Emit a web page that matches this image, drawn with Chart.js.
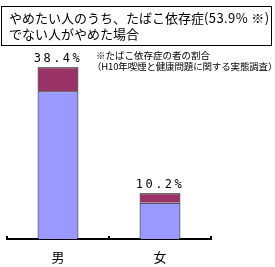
<!DOCTYPE html>
<html>
<head>
<meta charset="utf-8">
<script src="https://cdn.jsdelivr.net/npm/chart.js@4/dist/chart.umd.min.js"></script>
<style>
  html, body { margin: 0; padding: 0; background: #fff; }
  #wrap { position: relative; width: 275px; height: 267px; overflow: hidden; }
  canvas { position: absolute; left: 0; top: 0; }
  #title {
    position: absolute; left: 1px; top: 6px; width: 271px; height: 40px;
    border: 1.5px solid #000; box-sizing: border-box;
    font-family: "Noto Sans CJK JP", sans-serif; font-size: 13px; line-height: 16px;
    color: #000; padding: 3px 0 0 7px; white-space: nowrap;
  }
  #title .lat { letter-spacing: 0.4px; }
  #note {
    position: absolute; left: 96px; top: 50px;
    font-family: "Noto Sans CJK JP", sans-serif; font-size: 9.5px; line-height: 10.5px;
    color: #000; white-space: nowrap;
  }
  #note .l2 { margin-left: -4px; letter-spacing: -0.15px; }
</style>
</head>
<body>
<div id="wrap">
  <canvas id="c" width="275" height="267"></canvas>
  <div id="title">やめたい人のうち、たばこ依存症<span class="lat">(53.9% ※)</span><br>でない人がやめた場合</div>
  <div id="note">※たばこ依存症の者の割合<br><span class="l2">（H10年喫煙と健康問題に関する実態調査）</span></div>
</div>
<script>
const categories = ["男", "女"];
const nonDependent = [33.0, 8.1];
const dependent = [5.4, 2.1];
const yMax = 40;

const topLabels = {
  id: 'topLabels',
  afterDatasetsDraw(chart) {
    const ctx = chart.ctx;
    const xs = chart.scales.x, ys = chart.scales.y;
    ctx.save();
    ctx.fillStyle = '#000';
    ctx.font = '12px "DejaVu Sans Mono", monospace';
    ctx.letterSpacing = '2.5px';
    ctx.textAlign = 'center';
    ctx.textBaseline = 'middle';
    categories.forEach((c, i) => {
      const total = nonDependent[i] + dependent[i];
      const x = xs.getPixelForValue(i);
      const y = ys.getPixelForValue(total) - 8;
      ctx.fillText(total.toFixed(1) + '%', x, y);
    });
    ctx.restore();
  }
};

const upTicks = {
  id: 'upTicks',
  afterDraw(chart) {
    const ctx = chart.ctx;
    const xs = chart.scales.x;
    const yb = chart.chartArea.bottom;
    ctx.save();
    ctx.strokeStyle = '#000';
    ctx.lineWidth = 2;
    for (let i = 0; i <= categories.length; i++) {
      const x = Math.round(xs.getPixelForValue(i - 0.5));
      ctx.beginPath();
      ctx.moveTo(x, yb + 1);
      ctx.lineTo(x, yb - 3);
      ctx.stroke();
    }
    ctx.restore();
  }
};

new Chart(document.getElementById('c'), {
  type: 'bar',
  data: {
    labels: categories,
    datasets: [
      { data: nonDependent, backgroundColor: '#9999FF', borderColor: '#000', borderWidth: 1,
        barPercentage: 0.4, categoryPercentage: 1.0 },
      { data: dependent, backgroundColor: '#993366', borderColor: '#000', borderWidth: 1,
        barPercentage: 0.4, categoryPercentage: 1.0 }
    ]
  },
  options: {
    responsive: false,
    animation: false,
    devicePixelRatio: 1,
    layout: { padding: { left: 7, right: 64, top: 60, bottom: 0 } },
    plugins: { legend: { display: false }, tooltip: { enabled: false } },
    scales: {
      x: {
        stacked: true,
        grid: { display: false, drawTicks: false },
        border: { display: true, color: '#000', width: 2 },
        ticks: { color: '#000', padding: 10, font: { family: '"Noto Sans CJK JP"', size: 13 } },
        afterFit(s) { s.height = 28; }
      },
      y: {
        stacked: true, display: false, min: 0, max: yMax
      }
    }
  },
  plugins: [topLabels, upTicks]
});
</script>
</body>
</html>
